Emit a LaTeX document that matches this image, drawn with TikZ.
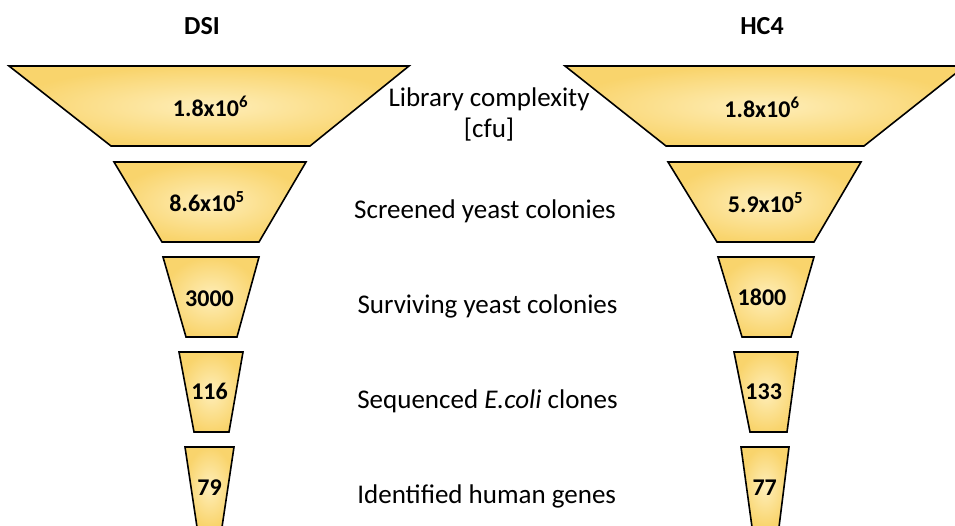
\documentclass[tikz,border=0pt]{standalone}
\usepackage{fontspec}
\setmainfont{Carlito}
\definecolor{funout}{RGB}{249,212,108}
\definecolor{funin}{RGB}{254,238,185}
\tikzset{
  funnel/.style={draw=black, line width=1.6pt, line join=miter, inner color=funin, outer color=funout},
  num/.style={font=\fontsize{24}{28}\selectfont\bfseries, anchor=base, inner sep=0pt},
  lbl/.style={font=\fontsize{27}{31}\selectfont, anchor=base, inner sep=0pt},
  ttl/.style={font=\fontsize{26}{30}\selectfont\bfseries, anchor=base, inner sep=0pt}
}
\begin{document}
\begin{tikzpicture}[x=1pt,y=-1pt]
\useasboundingbox (0,0) rectangle (955,526);
\clip (0,0) rectangle (955,526);
% left funnel (DSI)
\path[funnel] (9,66) -- (409,66) -- (310,146) -- (111,146) -- cycle;
\path[funnel] (114,162) -- (306,162) -- (259,242) -- (162,242) -- cycle;
\path[funnel] (163,257) -- (259,257) -- (237,337) -- (186,337) -- cycle;
\path[funnel] (179,352) -- (243,352) -- (229,432) -- (194,432) -- cycle;
\path[funnel] (185,447) -- (234,447) -- (222,527) -- (197,527) -- cycle;
% right funnel (HC4)
\path[funnel] (565,66) -- (965,66) -- (864,146) -- (666,146) -- cycle;
\path[funnel] (668,162) -- (861,162) -- (814,242) -- (717,242) -- cycle;
\path[funnel] (718,257) -- (814,257) -- (791,337) -- (742,337) -- cycle;
\path[funnel] (734,352) -- (798,352) -- (787,432) -- (750,432) -- cycle;
\path[funnel] (741,447) -- (789,447) -- (779,527) -- (752,527) -- cycle;
% titles
\node[ttl] (tdsi) at (202,35) {DSI};
\node[ttl] (thc4) at (762,35) {HC4};
% numbers left
\node[num] (d1) at (210.5,117) {1.8x10\textsuperscript{6}};
\node[num] (d2) at (207,212) {8.6x10\textsuperscript{5}};
\node[num] (d3) at (209.5,306.5) {3000};
\node[num] (d4) at (209.5,399) {116};
\node[num] (d5) at (209.5,495) {79};
% numbers right
\node[num] (h1) at (762,118) {1.8x10\textsuperscript{6}};
\node[num] (h2) at (765.5,212.5) {5.9x10\textsuperscript{5}};
\node[num] (h3) at (762,305.5) {1800};
\node[num] (h4) at (763.7,399) {133};
\node[num] (h5) at (764.7,495) {77};
% labels
\node[lbl] (l1a) at (489,107) {Library complexity};
\node[lbl] (l1b) at (489,138) {[cfu]};
\node[lbl] (l2) at (485,219) {Screened yeast colonies};
\node[lbl] (l3) at (487.5,314) {Surviving yeast colonies};
\node[lbl] (l4) at (487.5,408) {Sequenced \textit{E.coli} clones};
\node[lbl] (l5) at (486.7,503) {Identified human genes};
\end{tikzpicture}
\end{document}
